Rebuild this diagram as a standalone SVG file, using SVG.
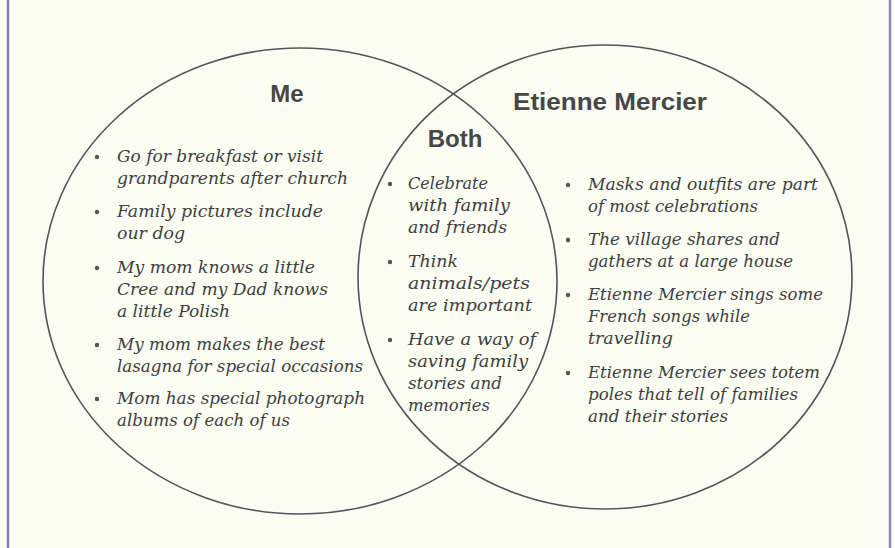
<svg xmlns="http://www.w3.org/2000/svg" width="895" height="548" viewBox="0 0 895 548">
<style>
.bg{fill:#fbfcf2}
.ring{fill:none;stroke:#555;stroke-width:1.6}
.hd{font-family:"Liberation Sans",Arial,sans-serif;font-weight:bold;font-size:24px;fill:#474747}
.tx{font-family:"DejaVu Serif","Liberation Serif",serif;font-style:italic;font-size:16px;fill:#3f3f3f}
.dot{fill:#555}
</style>
<rect class="bg" x="0" y="0" width="895" height="548"/>
<line x1="8" y1="0" x2="8" y2="548" stroke="#8e7cb8" stroke-width="2.5"/>
<line x1="890" y1="0" x2="890" y2="548" stroke="#8a8aa6" stroke-width="2.5"/>
<g id="connectors"></g>
<g id="circle-me"><ellipse class="ring" cx="300" cy="281" rx="257" ry="233"/></g>
<g id="circle-etienne"><ellipse class="ring" cx="605" cy="277" rx="247" ry="232"/></g>
<g id="me">
<text class="hd" x="287" y="102" text-anchor="middle">Me</text>
<circle class="dot" cx="97" cy="157" r="2.2"/>
<text class="tx" x="117" y="162" textLength="206" lengthAdjust="spacingAndGlyphs">Go for breakfast or visit</text>
<text class="tx" x="117" y="184" textLength="231" lengthAdjust="spacingAndGlyphs">grandparents after church</text>
<circle class="dot" cx="97" cy="212" r="2.2"/>
<text class="tx" x="117" y="217" textLength="206" lengthAdjust="spacingAndGlyphs">Family pictures include</text>
<text class="tx" x="117" y="239" textLength="68" lengthAdjust="spacingAndGlyphs">our dog</text>
<circle class="dot" cx="97" cy="268" r="2.2"/>
<text class="tx" x="117" y="273" textLength="198" lengthAdjust="spacingAndGlyphs">My mom knows a little</text>
<text class="tx" x="117" y="295" textLength="211" lengthAdjust="spacingAndGlyphs">Cree and my Dad knows</text>
<text class="tx" x="117" y="317" textLength="113" lengthAdjust="spacingAndGlyphs">a little Polish</text>
<circle class="dot" cx="97" cy="345" r="2.2"/>
<text class="tx" x="117" y="350" textLength="208" lengthAdjust="spacingAndGlyphs">My mom makes the best</text>
<text class="tx" x="117" y="372" textLength="246" lengthAdjust="spacingAndGlyphs">lasagna for special occasions</text>
<circle class="dot" cx="97" cy="399" r="2.2"/>
<text class="tx" x="117" y="404" textLength="248" lengthAdjust="spacingAndGlyphs">Mom has special photograph</text>
<text class="tx" x="117" y="426" textLength="173" lengthAdjust="spacingAndGlyphs">albums of each of us</text>
</g>
<g id="both">
<text class="hd" x="455" y="147" text-anchor="middle">Both</text>
<circle class="dot" cx="390" cy="184" r="2.2"/>
<text class="tx" x="408" y="189" textLength="80" lengthAdjust="spacingAndGlyphs">Celebrate</text>
<text class="tx" x="408" y="211" textLength="102" lengthAdjust="spacingAndGlyphs">with family</text>
<text class="tx" x="408" y="233" textLength="99" lengthAdjust="spacingAndGlyphs">and friends</text>
<circle class="dot" cx="390" cy="262" r="2.2"/>
<text class="tx" x="408" y="267" textLength="50" lengthAdjust="spacingAndGlyphs">Think</text>
<text class="tx" x="408" y="289" textLength="122" lengthAdjust="spacingAndGlyphs">animals/pets</text>
<text class="tx" x="408" y="311" textLength="124" lengthAdjust="spacingAndGlyphs">are important</text>
<circle class="dot" cx="390" cy="340" r="2.2"/>
<text class="tx" x="408" y="345" textLength="128" lengthAdjust="spacingAndGlyphs">Have a way of</text>
<text class="tx" x="408" y="367" textLength="120" lengthAdjust="spacingAndGlyphs">saving family</text>
<text class="tx" x="408" y="389" textLength="94" lengthAdjust="spacingAndGlyphs">stories and</text>
<text class="tx" x="408" y="411" textLength="82" lengthAdjust="spacingAndGlyphs">memories</text>
</g>
<g id="etienne">
<text class="hd" x="610" y="110" text-anchor="middle" textLength="194" lengthAdjust="spacingAndGlyphs">Etienne Mercier</text>
<circle class="dot" cx="568" cy="185" r="2.2"/>
<text class="tx" x="588" y="190" textLength="230" lengthAdjust="spacingAndGlyphs">Masks and outfits are part</text>
<text class="tx" x="588" y="212" textLength="170" lengthAdjust="spacingAndGlyphs">of most celebrations</text>
<circle class="dot" cx="568" cy="240" r="2.2"/>
<text class="tx" x="588" y="245" textLength="192" lengthAdjust="spacingAndGlyphs">The village shares and</text>
<text class="tx" x="588" y="267" textLength="205" lengthAdjust="spacingAndGlyphs">gathers at a large house</text>
<circle class="dot" cx="568" cy="295" r="2.2"/>
<text class="tx" x="588" y="300" textLength="235" lengthAdjust="spacingAndGlyphs">Etienne Mercier sings some</text>
<text class="tx" x="588" y="322" textLength="162" lengthAdjust="spacingAndGlyphs">French songs while</text>
<text class="tx" x="588" y="344" textLength="85" lengthAdjust="spacingAndGlyphs">travelling</text>
<circle class="dot" cx="568" cy="373" r="2.2"/>
<text class="tx" x="588" y="378" textLength="232" lengthAdjust="spacingAndGlyphs">Etienne Mercier sees totem</text>
<text class="tx" x="588" y="400" textLength="210" lengthAdjust="spacingAndGlyphs">poles that tell of families</text>
<text class="tx" x="588" y="422" textLength="140" lengthAdjust="spacingAndGlyphs">and their stories</text>
</g>
</svg>
